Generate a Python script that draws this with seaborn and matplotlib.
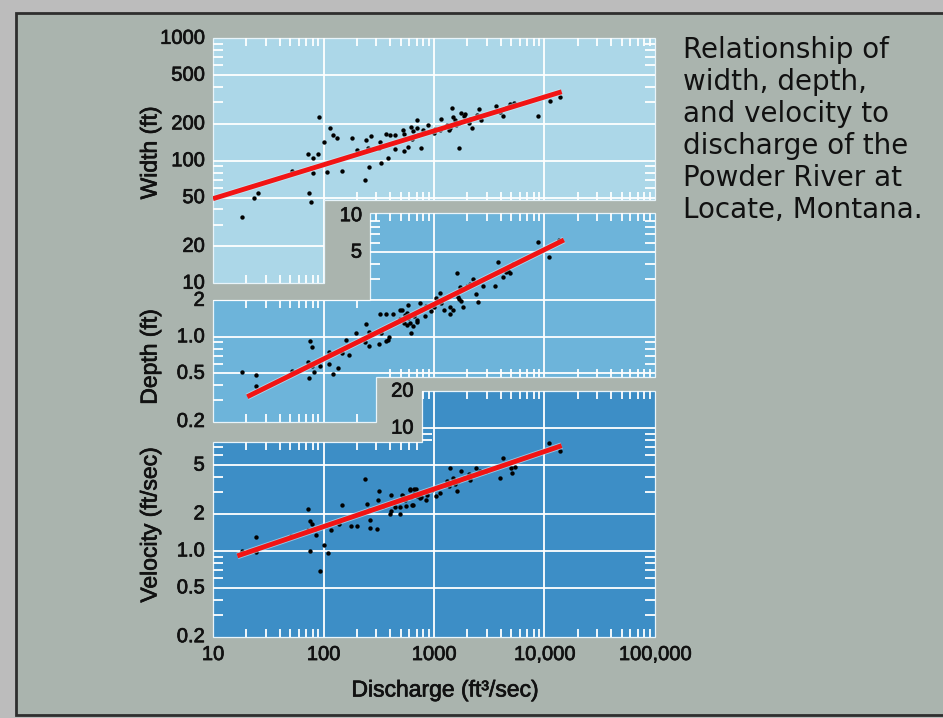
import matplotlib
matplotlib.use("Agg")
import matplotlib.pyplot as plt
import seaborn as sns
from matplotlib.patches import Polygon, Rectangle
import matplotlib.patheffects as pe

sns.set_theme(style="white")
plt.rcParams['font.family'] = ['Liberation Sans', 'DejaVu Sans']

# ---- data (discharge in ft3/sec) ----
width_q = [92, 114, 121, 133, 101, 72, 81, 89, 76.5, 80.6, 51.5, 108, 148, 182, 201,
           244, 269, 254, 258, 238, 323, 316, 328, 365, 397, 440, 446, 385, 23.5, 25.6,
           74, 76.5, 18.4, 527, 535, 535, 585, 629, 619, 650, 700, 708, 760, 722, 802,
           875, 990, 1028, 1160, 1143, 1315, 1360, 1410, 1460, 1490, 1565, 1680, 1590,
           1700, 1760, 1850, 1920, 2060, 2210, 2130, 2440, 2550, 2660, 3630, 3960, 4240,
           4720, 4890, 5300, 4530, 8740, 11100, 13700]
width_ft = [229, 186, 162, 152, 143, 113, 105, 113, 88, 80, 82, 81, 83, 152, 122,
            147, 159, 128, 89, 69, 143, 128, 96, 165, 162, 162, 124, 105, 50, 55,
            55, 46, 35, 178, 165, 120, 130, 150, 190, 175, 215, 184, 128, 162, 178,
            196, 167, 180, 218, 178, 196, 178, 184, 268, 229, 215, 128, 196,
            202, 244, 232, 240, 202, 184, 218, 236, 264, 215, 280, 251, 233,
            276, 290, 294, 268, 233, 309, 333]

depth_q = [18.4, 24.3, 24.7, 51.5, 76, 79, 72.3, 79, 73.8, 81.8, 92.3, 111, 112, 122,
           136, 148, 159, 170, 198, 244, 258, 258, 236, 318, 328, 323, 370, 424, 365,
           385, 390, 496, 488, 545, 580, 605, 624, 665, 703, 750, 530, 1630, 1710, 1660,
           1700, 1770, 1830, 1400, 1500, 1400, 1130, 1050, 1160, 1230, 990, 930, 840,
           830, 760, 700, 585, 565, 510, 650, 565, 2130, 2270, 2000, 2480, 2380, 2760,
           3600, 3830, 4230, 4470, 4720, 4890, 5170, 8740, 10900, 13500]
depth_ft = [0.51, 0.48, 0.39, 0.52, 0.92, 0.82, 0.62, 0.57, 0.46, 0.51, 0.57, 0.75, 0.6, 0.49,
            0.55, 0.73, 0.95, 0.71, 1.07, 1.27, 1.1, 0.84, 0.91, 0.88, 1.07, 1.53, 1.53, 1.54, 0.92,
            0.95, 1.0, 1.68, 1.39, 1.51, 1.83, 1.29, 1.08, 1.48, 1.33, 1.91, 1.29, 3.38, 2.56, 2.12,
            2.04, 1.98, 1.77, 1.77, 1.66, 1.54, 2.28, 2.08, 1.91, 1.68, 1.77, 1.64, 1.79,
            1.48, 1.66, 1.37, 1.42, 1.56, 1.66, 1.23, 1.25, 2.73, 3.01, 2.62, 1.93, 2.24, 2.62,
            2.62, 4.12, 3.13, 3.44, 3.49, 3.38, 3.99, 6.03, 4.58, 6.3]

vel_q = [18.2, 24.3, 24.3, 50.4, 72, 75.3, 79, 72.4, 83, 86.3, 76, 101, 110, 92.3, 106,
         118, 137, 147, 176, 202, 239, 249, 258, 261, 261, 303, 316, 311, 345, 397, 412,
         404, 440, 496, 496, 519, 560, 605, 624, 650, 665, 690, 700, 750, 4170, 3990,
         4960, 5450, 5030, 10980, 13700, 1390, 1630, 1760, 1490, 1560, 1320, 1270, 1380,
         1660, 1850, 2060, 2130, 2410, 2480, 2600, 1130, 1050, 960, 860, 840, 760, 610,
         655, 629, 545, 512, 2980]
vel_fps = [0.99, 1.30, 0.98, 1.32, 2.2, 1.76, 1.67, 1.48, 1.52, 1.35, 0.99, 1.11, 0.97, 0.69, 1.64,
           1.48, 1.67, 2.35, 1.61, 1.59, 3.85, 2.41, 2.17, 1.78, 1.55, 1.52, 3.06, 2.62, 2.34, 1.98, 2.11,
           2.87, 2.27, 1.98, 2.27, 2.82, 2.31, 3.19, 2.73, 2.35, 2.92, 3.19, 2.78, 2.71, 5.75, 3.92,
           4.72, 4.87, 4.35, 7.6, 6.52, 4.72, 3.1, 4.49, 3.92, 3.51, 3.68, 3.46, 3.35,
           3.68, 3.92, 4.23, 3.8, 4.72, 4.3, 4.49, 2.96, 2.78, 3.16, 2.87, 2.62, 2.73, 3.16,
           3.21, 2.38, 2.62, 2.87, 4.5]

# fitted lines (end points)
width_fit_q, width_fit = [10, 14300], [49, 366]
depth_fit_q, depth_fit = [20.4, 15000], [0.32, 6.3]
vel_fit_q, vel_fit = [16.6, 14300], [0.91, 7.2]

# tick labels
width_ticks = [1000, 500, 200, 100, 50, 20, 10]
width_labels = ['1000', '500', '200', '100', '50', '20', '10']
depth_ticks = [10, 5, 2, 1, 0.5, 0.2]
depth_labels = ['10', '5', '2', '1.0', '0.5', '0.2']
vel_ticks = [20, 10, 5, 2, 1, 0.5, 0.2]
vel_labels = ['20', '10', '5', '2', '1.0', '0.5', '0.2']
q_ticks = [10, 100, 1000, 10000, 100000]
q_labels = ['10', '100', '1000', '10,000', '100,000']

title_lines = ['Relationship of', 'width, depth,', 'and velocity to',
               'discharge of the', 'Powder River at', 'Locate, Montana.']

# ---- figure ----
W, H = 943, 718
fig = plt.figure(figsize=(W / 100, H / 100), dpi=100)
fig.patch.set_facecolor('#bcbcbc')
fig.add_artist(Rectangle((16 / W, 1 - 715 / H), (W + 10 - 16) / W, (715 - 13) / H,
                         transform=fig.transFigure, facecolor='#aab4ae',
                         edgecolor='#2e2e2e', lw=2, zorder=-5))

XMINOR = [m * 10 ** k for k in range(1, 5) for m in range(2, 10)]
bold_fx = [pe.withStroke(linewidth=0.5, foreground='#111111')]


def yminor(lo, hi):
    vals = [m * 10.0 ** k for k in range(-2, 4) for m in (3, 4, 6, 7, 8, 9)]
    return [v for v in vals if lo * 1.001 < v < hi * 0.999]


def panel(box, ylim, outline, color, q, v, fq, fv, ygrid, edges):
    x0, y0, x1, y1 = box
    ax = fig.add_axes([x0 / W, 1 - y1 / H, (x1 - x0) / W, (y1 - y0) / H])
    ax.set_xscale('log')
    ax.set_yscale('log')
    ax.set_axis_off()
    poly = Polygon(outline, closed=True, facecolor=color, edgecolor='#e8f4fa',
                   lw=0.9, transform=ax.transData, clip_on=False, zorder=0)
    ax.add_patch(poly)

    for g in ygrid:
        ln = ax.axhline(g, color='white', lw=1.3, zorder=1)
        ln.set_clip_path(poly)
    for g in [100, 1000, 10000]:
        ln = ax.axvline(g, color='white', lw=1.3, zorder=1)
        ln.set_clip_path(poly)

    for side, fixed, lo, hi in edges:
        if side in ('top', 'bottom'):
            xs = [t for t in XMINOR if lo * 1.001 < t < hi * 0.999]
            ax.plot(xs, [fixed] * len(xs), ls='none', marker=3 if side == 'top' else 2,
                    ms=5.8, mew=1.3, color='white', clip_on=False, zorder=2)
        else:
            ys = yminor(lo, hi)
            ax.plot([fixed] * len(ys), ys, ls='none', marker=1 if side == 'left' else 0,
                    ms=7, mew=1.3, color='white', clip_on=False, zorder=2)

    sns.scatterplot(x=q, y=v, ax=ax, color='black', s=10, linewidth=0, zorder=3)
    ax.collections[-1].set_clip_path(poly)
    ln, = ax.plot(fq, fv, color='#f21414', lw=3.5, solid_capstyle='butt', zorder=4,
                  path_effects=[pe.Stroke(linewidth=4.8, foreground='#cdeefa', alpha=0.6),
                                pe.Normal()])
    ln.set_clip_path(poly)
    ax.set_xlim(10, 1e5)
    ax.set_ylim(*ylim)
    return ax


def ylabels(ax, ticks, labels, xpos):
    for t, lab, xp in zip(ticks, labels, xpos):
        ax.annotate(lab, (xp, t), xytext=(-6, 0), textcoords='offset points',
                    ha='right', va='center', fontsize=14.5, color='#111111',
                    annotation_clip=False, path_effects=bold_fx)


# width
ax_w = panel((213, 38.3, 655, 283.2), (10, 1000),
             [(10, 1000), (1e5, 1000), (1e5, 48), (100, 48), (100, 10), (10, 10)],
             '#acd7e8', width_q, width_ft, width_fit_q, width_fit,
             [20, 50, 100, 200, 500],
             [('top', 1000, 10, 1e5), ('bottom', 48, 100, 1e5), ('bottom', 10, 10, 100),
              ('left', 10, 10, 1000), ('right', 1e5, 48, 1000)])
ylabels(ax_w, width_ticks, width_labels, [10] * 7)

# depth
ax_d = panel((213, 213.1, 655, 421.5), (0.2, 10.5),
             [(265, 10.5), (1e5, 10.5), (1e5, 0.467), (300, 0.467), (300, 0.2),
              (10, 0.2), (10, 2), (265, 2)],
             '#6db4da', depth_q, depth_ft, depth_fit_q, depth_fit,
             [0.5, 1, 2, 5],
             [('top', 10.5, 265, 1e5), ('top', 2, 10, 265), ('bottom', 0.467, 300, 1e5),
              ('bottom', 0.2, 10, 300), ('left', 265, 2, 10.5), ('left', 10, 0.2, 2),
              ('right', 1e5, 0.467, 10.5)])
ylabels(ax_d, depth_ticks, depth_labels, [265, 265, 10, 10, 10, 10])

# velocity
ax_v = panel((213, 391.2, 655, 636.7), (0.2, 20),
             [(774, 20), (1e5, 20), (1e5, 0.2), (10, 0.2), (10, 7.74), (774, 7.74)],
             '#3d8ec6', vel_q, vel_fps, vel_fit_q, vel_fit,
             [0.5, 1, 2, 5, 10],
             [('top', 20, 774, 1e5), ('top', 7.74, 10, 774), ('bottom', 0.2, 10, 1e5),
              ('left', 774, 7.74, 20), ('left', 10, 0.2, 7.74), ('right', 1e5, 0.2, 20)])
ylabels(ax_v, vel_ticks, vel_labels, [774, 774, 10, 10, 10, 10, 10])
for t, lab in zip(q_ticks, q_labels):
    ax_v.annotate(lab, (t, 0.2), xytext=(0, -6), textcoords='offset points',
                  ha='center', va='top', fontsize=14.5, color='#111111',
                  annotation_clip=False, path_effects=bold_fx)

# axis titles
for ypx, txt in [(153, 'Width (ft)'), (357, 'Depth (ft)'), (525, 'Velocity (ft/sec)')]:
    fig.text(150 / W, 1 - ypx / H, txt, rotation=90, ha='center', va='center',
             fontsize=16.5, color='#111111', path_effects=bold_fx)
fig.text(445 / W, 1 - 690 / H, 'Discharge (ft³/sec)', ha='center', va='center',
         fontsize=16.5, color='#111111', path_effects=bold_fx)

for i, line in enumerate(title_lines):
    fig.text(683 / W, 1 - (50 + 32 * i) / H, line, ha='left', va='center',
             fontsize=20, family='DejaVu Sans', color='#111111')

fig.savefig('out.png', dpi=100, facecolor=fig.get_facecolor())
